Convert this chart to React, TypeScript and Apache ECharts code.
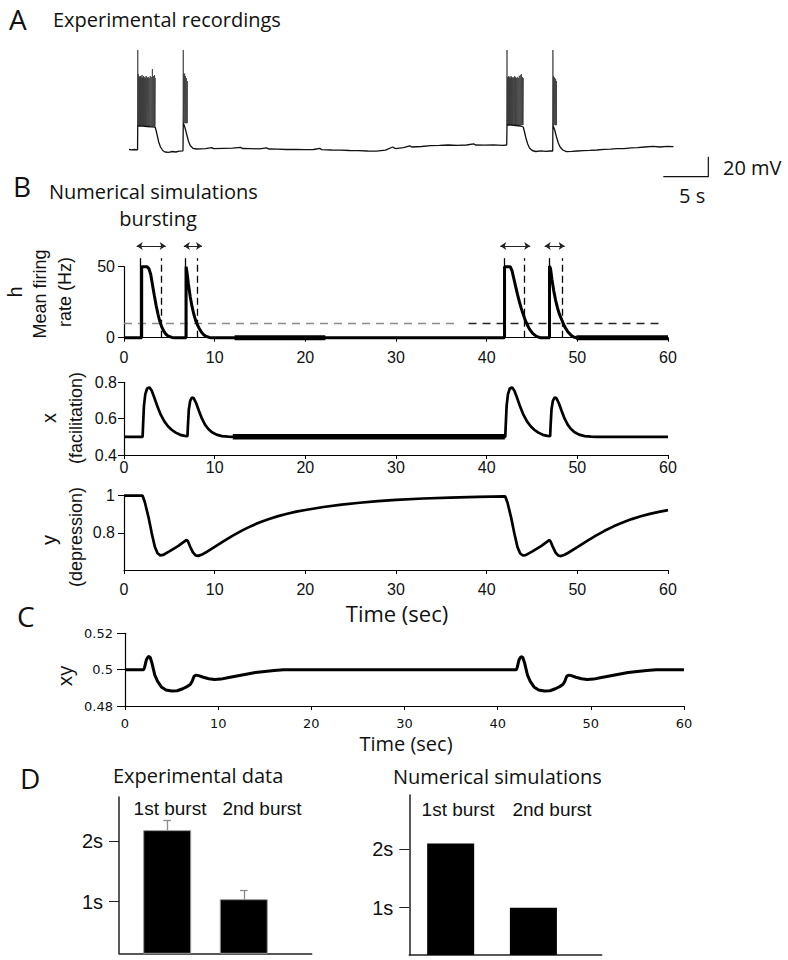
import React, { useEffect, useRef } from "react";
import * as echarts from "echarts";

// ---------- DATA ----------
// Panel A: experimental membrane potential (time s, mV)
const expTrace: number[][] = [
  [0, -59.5], [0.3, -59.8], [0.6, -59.5], [0.95, -59.8], [0.97, -36], [1.5, -36.2], [2.0, -36.5], [2.5, -36.8], [2.9, -37],
  [3.0, -40], [3.15, -46], [3.3, -52], [3.5, -57], [3.75, -60.5], [4.0, -62], [4.4, -62.3], [4.8, -61.5], [5.2, -62], [5.6, -61.2],
  [6.0, -60.8], [6.03, -33], [6.2, -37], [6.4, -44], [6.6, -51], [6.8, -55.5], [7.1, -58.3], [7.5, -59], [8.5, -58.6], [9.2, -57.6],
  [9.4, -58.6], [10.5, -58.4], [11.5, -58.2], [12.4, -57.4], [12.6, -58.5], [13.5, -58.6], [14.5, -58.9], [15.3, -57.8], [15.5, -59],
  [16.5, -59.1], [17.5, -59.5], [18.5, -59.4], [19.5, -59.6], [20.5, -59.5], [21.2, -58.3], [21.4, -59.6], [22.5, -60], [23.5, -60.1],
  [24.5, -60.5], [25.5, -60.6], [26.5, -61], [27.5, -61.2], [28.5, -60.2], [29.3, -57], [29.6, -58.6], [30.5, -57.6], [31.2, -55.8],
  [31.4, -57], [32.5, -56.5], [33.5, -55.6], [34.5, -55.4], [35.5, -55], [36.5, -55.4], [37.5, -55], [38.3, -53.8], [38.5, -55],
  [39.5, -55.1], [40.5, -54.9], [41.5, -55.3], [41.97, -55], [42.0, -35], [42.5, -35], [43.0, -35.5], [43.5, -36], [43.8, -37],
  [43.95, -42], [44.1, -48], [44.3, -54], [44.5, -58], [44.8, -60.5], [45.2, -61.5], [45.8, -60.8], [46.3, -61.4], [46.8, -61],
  [47.08, -61], [47.1, -35], [47.3, -40], [47.5, -47], [47.7, -53], [47.9, -57], [48.2, -60], [48.6, -61.6], [49.2, -61.4],
  [49.8, -61], [50.5, -60.6], [51.2, -60.4], [52, -60], [52.8, -59.4], [53.5, -59.1], [54.2, -58.7], [55, -58.6], [55.8, -57.9],
  [56.5, -57.6], [57.3, -57], [58.2, -56.4], [59, -57], [59.8, -56.4], [60.5, -56.7],
];
// spikes within bursts: [time, peak mV]
const burst1Spikes = [[0.975, 40], [1.03, 16], [1.08, 13], [1.13, 14], [1.18, 12], [1.23, 13], [1.28, 14], [1.33, 12], [1.38, 13], [1.44, 15], [1.5, 12], [1.56, 13], [1.62, 14], [1.68, 12], [1.75, 13], [1.82, 12], [1.9, 14], [1.98, 13], [2.06, 12], [2.15, 13], [2.25, 12], [2.36, 14], [2.48, 13], [2.6, 21], [2.72, 14], [2.84, 15], [2.9, 12]];
const burst2Spikes = [[6.03, 40], [6.1, 17], [6.18, 16], [6.27, 14], [6.37, 12], [6.48, 9]];
const burst3Spikes = [[42.0, 40], [42.05, 13], [42.1, 12], [42.15, 13], [42.2, 14], [42.26, 12], [42.32, 13], [42.38, 12], [42.45, 14], [42.52, 13], [42.6, 12], [42.68, 13], [42.76, 12], [42.85, 14], [42.94, 13], [43.04, 12], [43.14, 13], [43.25, 12], [43.36, 14], [43.48, 15], [43.6, 16], [43.72, 13], [43.8, 12]];
const burst4Spikes = [[47.1, 40], [47.16, 14], [47.23, 13], [47.31, 12], [47.4, 11], [47.5, 9]];
const burstTroughs = [-36, -33, -35, -35];

// Panel B: mean firing rate h (Hz)
const hRate: number[][] = [
  [0, 0], [1.95, 0], [1.95, 50], [2.55, 50], [2.75, 48.5], [2.95, 44.5], [3.15, 37], [3.35, 29.5], [3.55, 22.5], [3.75, 16.5],
  [3.95, 11.5], [4.15, 7.8], [4.35, 5], [4.6, 2.6], [4.9, 1], [5.3, 0.2], [5.6, 0], [6.85, 0], [6.85, 50], [6.95, 46], [7.1, 38],
  [7.3, 29], [7.5, 22], [7.7, 16.5], [7.9, 12.2], [8.1, 9], [8.3, 6.5], [8.5, 4.3], [8.75, 2.3], [9.0, 1], [9.4, 0.2], [9.8, 0],
  [41.97, 0], [41.97, 50], [42.6, 50], [42.8, 47], [43.0, 41.5], [43.2, 36], [43.4, 30.5], [43.6, 25.5], [43.8, 21], [44.0, 17],
  [44.2, 13.3], [44.4, 10.2], [44.6, 7.5], [44.8, 5.3], [45.1, 2.9], [45.5, 0.9], [45.9, 0], [46.93, 0], [46.93, 50.5], [47.05, 48.5],
  [47.2, 41], [47.4, 33], [47.6, 26.5], [47.8, 21.3], [48.0, 17], [48.3, 12.3], [48.6, 7.8], [48.95, 4.2], [49.3, 1.8], [49.6, 0.5],
  [49.9, 0], [60, 0],
];
const hThickSpans = [[12.2, 22.2], [49.9, 60]];
const thresholdHz = 10;
const burstStarts = [1.75, 6.75, 41.9, 46.86];
const burstEnds = [4.08, 8.1, 44.1, 48.3];
const arrowSpans = [[1.4, 4.6], [6.6, 8.6], [41.5, 44.8], [46.4, 48.6]];

// facilitation x
const facilitation: number[][] = [
  [0, 0.5], [2.05, 0.5], [2.1, 0.56], [2.2, 0.67], [2.35, 0.735], [2.55, 0.766], [2.8, 0.772], [3.05, 0.755], [3.35, 0.715],
  [3.7, 0.665], [4.05, 0.622], [4.45, 0.585], [4.85, 0.558], [5.25, 0.539], [5.7, 0.523], [6.2, 0.511], [6.7, 0.505], [7.0, 0.504],
  [7.05, 0.56], [7.15, 0.65], [7.3, 0.698], [7.5, 0.717], [7.7, 0.712], [7.95, 0.686], [8.25, 0.645], [8.6, 0.6], [8.95, 0.566],
  [9.3, 0.543], [9.7, 0.525], [10.2, 0.512], [10.8, 0.504], [11.5, 0.501], [12, 0.5], [42.05, 0.5], [42.1, 0.56], [42.2, 0.67],
  [42.35, 0.735], [42.55, 0.766], [42.8, 0.772], [43.05, 0.755], [43.35, 0.715], [43.7, 0.665], [44.05, 0.622], [44.45, 0.585],
  [44.85, 0.558], [45.25, 0.539], [45.7, 0.523], [46.2, 0.511], [46.7, 0.505], [47.0, 0.504], [47.05, 0.56], [47.15, 0.65],
  [47.3, 0.698], [47.5, 0.717], [47.7, 0.712], [47.95, 0.686], [48.25, 0.645], [48.6, 0.6], [48.95, 0.566], [49.3, 0.543],
  [49.7, 0.525], [50.2, 0.512], [50.8, 0.504], [51.5, 0.501], [52, 0.5], [60, 0.5],
];
const facThickSpan = [12, 42];

// depression y
const depression: number[][] = [
  [0, 1], [2.05, 1], [2.3, 0.965], [2.7, 0.885], [3.05, 0.8], [3.4, 0.725], [3.7, 0.69], [4.0, 0.679], [4.3, 0.681], [5.0, 0.7],
  [6.0, 0.73], [6.9, 0.762], [7.05, 0.755], [7.3, 0.725], [7.6, 0.695], [7.9, 0.679], [8.2, 0.676], [8.6, 0.683], [9, 0.694],
  [10, 0.724], [11, 0.755], [12, 0.785], [13, 0.812], [14, 0.836], [15, 0.857], [16, 0.875], [17, 0.89], [18, 0.903], [19, 0.914],
  [20, 0.923], [22, 0.939], [24, 0.952], [26, 0.962], [28, 0.971], [30, 0.977], [33, 0.985], [36, 0.99], [39, 0.994], [42.05, 0.996],
  [42.3, 0.962], [42.7, 0.882], [43.05, 0.798], [43.4, 0.723], [43.7, 0.689], [44.0, 0.678], [44.3, 0.68], [45.0, 0.699],
  [46.0, 0.729], [46.9, 0.761], [47.05, 0.754], [47.3, 0.724], [47.6, 0.694], [47.9, 0.678], [48.2, 0.675], [48.6, 0.682],
  [49, 0.693], [50, 0.723], [51, 0.754], [52, 0.784], [53, 0.811], [54, 0.835], [55, 0.856], [56, 0.874], [57, 0.889], [58, 0.902],
  [59, 0.913], [60, 0.922],
];

// Panel C: xy
const xyProduct: number[][] = [
  [0, 0.5], [2.0, 0.5], [2.1, 0.5012], [2.3, 0.5055], [2.5, 0.5073], [2.7, 0.5068], [2.9, 0.5035], [3.2, 0.497], [3.5, 0.4935],
  [3.9, 0.4905], [4.4, 0.4888], [5.0, 0.4882], [5.6, 0.4884], [6.2, 0.4895], [6.7, 0.4908], [7.0, 0.4918], [7.2, 0.4935],
  [7.4, 0.4962], [7.6, 0.497], [7.9, 0.4967], [8.4, 0.4958], [9.0, 0.495], [9.6, 0.4946], [10.3, 0.4948], [11, 0.4955],
  [12, 0.4965], [13, 0.4975], [14, 0.4984], [15, 0.499], [16, 0.4995], [17, 0.4999], [18, 0.5], [42, 0.5], [42.1, 0.5012],
  [42.3, 0.5055], [42.5, 0.5071], [42.7, 0.5067], [42.9, 0.5035], [43.2, 0.497], [43.5, 0.4935], [43.9, 0.4905], [44.4, 0.4888],
  [45.0, 0.4882], [45.6, 0.4884], [46.2, 0.4895], [46.7, 0.4908], [47.0, 0.4918], [47.2, 0.4935], [47.4, 0.4962], [47.6, 0.497],
  [47.9, 0.4967], [48.4, 0.4958], [49.0, 0.495], [49.6, 0.4946], [50.3, 0.4948], [51, 0.4955], [52, 0.4965], [53, 0.4975],
  [54, 0.4984], [55, 0.499], [56, 0.4995], [57, 0.4999], [60, 0.5],
];

// Panel D: burst durations (s)
const burstCategories = ["1st burst", "2nd burst"];
const expDurations = [2.175, 1.04];
const expErrors = [0.155, 0.15];
const simDurations = [2.1, 1.0];

// ---------- STYLE ----------
const OS = "'Open Sans', sans-serif";
const LS = "'Liberation Sans', Arial, sans-serif";
const DV = "'DejaVu Sans', sans-serif";

function spikeSeries(spikes: number[][], trough: number) {
  const pts: number[][] = [];
  spikes.forEach(([t, p]) => {
    pts.push([t - 0.004, trough], [t, p], [t + 0.004, trough]);
  });
  return {
    type: "line", xAxisIndex: 0, yAxisIndex: 0, data: pts, symbol: "none", silent: true,
    lineStyle: { color: "#3c3c3c", width: 0.8 },
  };
}

function segs(list: number[][][]) {
  return list.map((c) => ({ coords: c }));
}

function buildOption() {
  const axLine = { lineStyle: { color: "#000", width: 1.2 } };
  const bX = (gi: number, margin: number) => ({
    gridIndex: gi, type: "value", min: 0, max: 60, interval: 10,
    axisLine: axLine, splitLine: { show: false },
    axisTick: { length: 4, lineStyle: { color: "#000" } },
    axisLabel: { margin, fontSize: 16, fontFamily: LS, color: "#111" },
  });
  const dX = (gi: number) => ({
    gridIndex: gi, type: "value", min: 0, max: 4,
    axisLine: { lineStyle: { color: "#222", width: 1.5 } },
    axisTick: { show: false }, axisLabel: { show: false }, splitLine: { show: false },
  });
  const dY = (gi: number, min: number, max: number) => ({
    gridIndex: gi, type: "value", min, max,
    axisLine: { show: true, lineStyle: { color: "#222", width: 1.5 } },
    axisTick: { show: true, length: 10, customValues: [1, 2], lineStyle: { color: "#222" } },
    axisLabel: { customValues: [1, 2], formatter: "{value}s", fontSize: 20, fontFamily: LS, color: "#111", margin: 16 },
    splitLine: { show: false },
  });

  const texts: any[] = [];
  const addText = (t: string, x: number, y: number, size: number, font: string, align = "left", rot = 0) => {
    texts.push({
      type: "text", x, y, rotation: rot, silent: true,
      style: { text: t, fontSize: size, fontFamily: font, fill: "#111", align, verticalAlign: "middle" },
    });
  };
  addText("A", 9, 19, 28, OS);
  addText("Experimental recordings", 53, 19, 20, OS);
  addText("20 mV", 723, 167, 20, OS);
  addText("5 s", 679, 195, 20, OS);
  addText("B", 13, 186, 28, OS);
  addText("Numerical simulations", 49, 191, 20, OS);
  addText("bursting", 158, 218, 20, OS, "center");
  addText("h", 15, 292, 20, LS, "center", Math.PI / 2);
  addText("Mean firing", 40, 294, 18, LS, "center", Math.PI / 2);
  addText("rate (Hz)", 65, 292, 18, LS, "center", Math.PI / 2);
  addText("x", 49, 418, 20, LS, "center", Math.PI / 2);
  addText("(facilitation)", 76, 418, 18, LS, "center", Math.PI / 2);
  addText("y", 49, 540, 20, LS, "center", Math.PI / 2);
  addText("(depression)", 76, 537, 18, LS, "center", Math.PI / 2);
  addText("Time (sec)", 397, 613, 22, OS, "center");
  addText("C", 17, 616, 28, OS);
  addText("xy", 64, 676, 20, OS, "center", Math.PI / 2);
  addText("Time (sec)", 406, 743, 20, OS, "center");
  addText("D", 20, 778, 28, OS);
  addText("Experimental data", 113, 775, 20, OS);
  addText("Numerical simulations", 393, 776, 20, OS);
  addText(burstCategories[0], 170, 808, 19, LS, "center");
  addText(burstCategories[1], 262, 808, 19, LS, "center");
  addText(burstCategories[0], 458, 809, 19, LS, "center");
  addText(burstCategories[1], 552, 809, 19, LS, "center");

  const line = (xi: number, data: number[][], width: number, color = "#000", extra: any = {}) => ({
    type: "line", xAxisIndex: xi, yAxisIndex: xi, data, symbol: "none", silent: true, clip: false,
    lineStyle: { color, width, ...(extra.lineStyle || {}) }, z: extra.z || 2,
  });

  const series: any[] = [
    // Panel A
    spikeSeries(burst1Spikes, burstTroughs[0]),
    spikeSeries(burst2Spikes, burstTroughs[1]),
    spikeSeries(burst3Spikes, burstTroughs[2]),
    spikeSeries(burst4Spikes, burstTroughs[3]),
    line(0, expTrace, 1.3, "#111", { z: 3 }),
    line(0, [[59.37, -86.7], [64.37, -86.7], [64.37, -66.7]], 1.2, "#111"),
    // Panel B h
    line(1, [[0, thresholdHz], [37, thresholdHz]], 1.5, "#8a8a8a", { lineStyle: { type: [8, 6] } }),
    line(1, [[38, thresholdHz], [59.3, thresholdHz]], 1.3, "#222", { lineStyle: { type: [8, 6] } }),
    line(1, hRate, 3, "#000", { z: 4 }),
    ...hThickSpans.map((s) => line(1, [[s[0], 0], [s[1], 0]], 5, "#000", { z: 4 })),
    {
      type: "lines", coordinateSystem: "cartesian2d", xAxisIndex: 1, yAxisIndex: 1, silent: true, clip: false,
      lineStyle: { color: "#000", width: 1.3, opacity: 1 },
      data: segs(burstStarts.map((t) => [[t, 0], [t, 56]])),
    },
    {
      type: "lines", coordinateSystem: "cartesian2d", xAxisIndex: 1, yAxisIndex: 1, silent: true, clip: false,
      lineStyle: { color: "#000", width: 1.3, type: [7, 4], opacity: 1 },
      data: segs(burstEnds.map((t) => [[t, 0], [t, 56]])),
    },
    {
      type: "lines", coordinateSystem: "cartesian2d", xAxisIndex: 1, yAxisIndex: 1, silent: true, clip: false,
      symbol: ["arrow", "arrow"], symbolSize: 6,
      lineStyle: { color: "#222", width: 1, opacity: 1 },
      data: segs(arrowSpans.map((s) => [[s[0], 64.5], [s[1], 64.5]])),
    },
    // Panel B x
    line(2, facilitation, 2.7),
    line(2, [[facThickSpan[0], 0.5], [facThickSpan[1], 0.5]], 5.5),
    // Panel B y
    line(3, depression, 2.7),
    // Panel C
    line(4, xyProduct, 3),
    // Panel D left
    {
      type: "bar", xAxisIndex: 5, yAxisIndex: 5, barWidth: 48, silent: true,
      itemStyle: { color: "#000", borderColor: "#9a9a9a", borderWidth: 1 },
      data: [[1.0, expDurations[0]], [2.59, expDurations[1]]],
    },
    {
      type: "lines", coordinateSystem: "cartesian2d", xAxisIndex: 5, yAxisIndex: 5, silent: true, clip: false,
      lineStyle: { color: "#8a8a8a", width: 1.3, opacity: 1 },
      data: segs([
        [[1.0, expDurations[0]], [1.0, expDurations[0] + expErrors[0]]],
        [[0.92, expDurations[0] + expErrors[0]], [1.08, expDurations[0] + expErrors[0]]],
        [[2.59, expDurations[1]], [2.59, expDurations[1] + expErrors[1]]],
        [[2.51, expDurations[1] + expErrors[1]], [2.67, expDurations[1] + expErrors[1]]],
      ]),
    },
    // Panel D right
    {
      type: "bar", xAxisIndex: 6, yAxisIndex: 6, barWidth: 47, silent: true,
      itemStyle: { color: "#000" },
      data: [[0.86, simDurations[0]], [2.58, simDurations[1]]],
    },
  ];

  return {
    animation: false,
    backgroundColor: "#fff",
    textStyle: { fontFamily: LS },
    grid: [
      { left: 129, top: 40, width: 585, height: 140 },
      { left: 124, top: 266.7, width: 544, height: 71 },
      { left: 124, top: 382.3, width: 544, height: 72.7 },
      { left: 124, top: 495.7, width: 544, height: 74.3 },
      { left: 125, top: 633.3, width: 559, height: 72.7 },
      { left: 119, top: 797, width: 192.7, height: 156.3 },
      { left: 409.3, top: 795, width: 192.4, height: 160 },
    ],
    xAxis: [
      { gridIndex: 0, type: "value", min: 0, max: 65, show: false },
      bX(1, 12),
      bX(2, 4),
      bX(3, 11),
      {
        gridIndex: 4, type: "value", min: 0, max: 60, interval: 10,
        axisLine: axLine, splitLine: { show: false },
        axisTick: { length: 4, lineStyle: { color: "#000" } },
        axisLabel: { margin: 11, fontSize: 13, fontFamily: DV, color: "#111" },
      },
      dX(5),
      dX(6),
    ],
    yAxis: [
      { gridIndex: 0, type: "value", min: -90, max: 50, show: false },
      {
        gridIndex: 1, type: "value", min: 0, max: 50,
        axisLine: { show: true, ...axLine }, splitLine: { show: false },
        axisTick: { show: true, length: 6, customValues: [0, 10, 50], lineStyle: { color: "#000" } },
        axisLabel: { customValues: [0, 10, 50], showMinLabel: true, showMaxLabel: true, fontSize: 16, fontFamily: LS, color: "#111", margin: 9 },
      },
      {
        gridIndex: 2, type: "value", min: 0.4, max: 0.8, interval: 0.2,
        axisLine: { show: true, ...axLine }, splitLine: { show: false },
        axisTick: { show: true, length: 6, lineStyle: { color: "#000" } },
        axisLabel: { showMinLabel: true, fontSize: 16, fontFamily: LS, color: "#111", margin: 7 },
      },
      {
        gridIndex: 3, type: "value", min: 0.6, max: 1,
        axisLine: { show: true, ...axLine }, splitLine: { show: false },
        axisTick: { show: true, length: 6, customValues: [0.8, 1], lineStyle: { color: "#000" } },
        axisLabel: { customValues: [0.8, 1], showMaxLabel: true, fontSize: 16, fontFamily: LS, color: "#111", margin: 9 },
      },
      {
        gridIndex: 4, type: "value", min: 0.48, max: 0.52, interval: 0.02,
        axisLine: { show: true, ...axLine }, splitLine: { show: false },
        axisTick: { show: true, length: 8, lineStyle: { color: "#000" } },
        axisLabel: { showMinLabel: true, showMaxLabel: true, fontSize: 13, fontFamily: DV, color: "#111", margin: 12 },
      },
      dY(5, 0.15, 2.72),
      dY(6, 0.19, 2.93),
    ],
    graphic: texts,
    series,
  };
}

export default function App() {
  const ref = useRef<HTMLDivElement>(null);
  useEffect(() => {
    document.body.style.margin = "0";
    const chart = echarts.init(ref.current!, null, { renderer: "svg" });
    chart.setOption(buildOption() as any);
    return () => chart.dispose();
  }, []);
  return <div ref={ref} style={{ width: 788, height: 960 }} />;
}
